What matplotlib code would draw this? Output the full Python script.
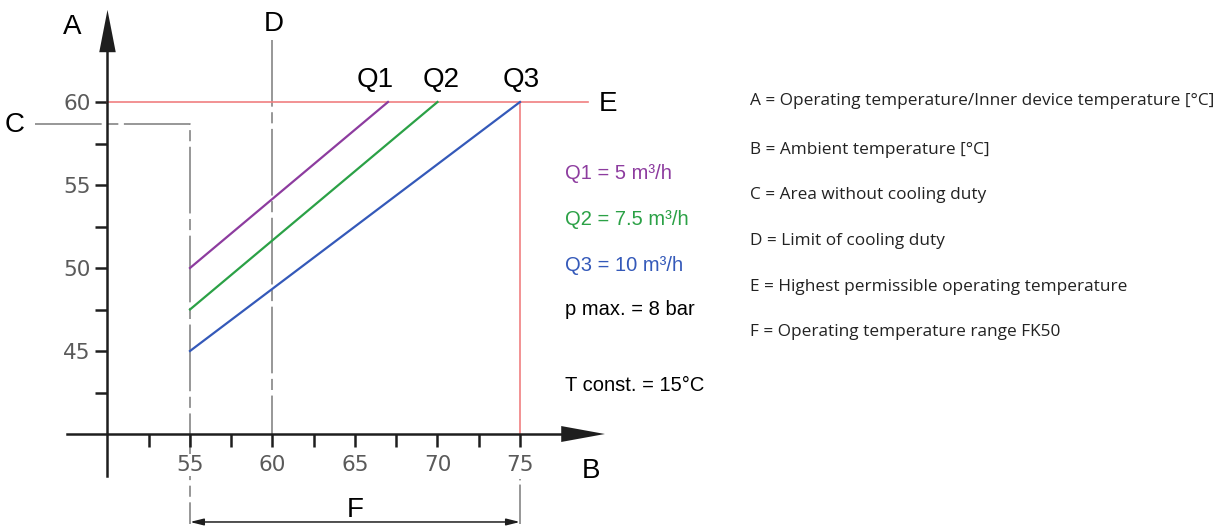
import numpy as np
import matplotlib
matplotlib.use("Agg")
from matplotlib import pyplot as plt
from matplotlib.patches import Polygon

# data
x_ticks = np.arange(52.5, 75.1, 2.5)
y_ticks = np.arange(42.5, 60.1, 2.5)
q_names = ["Q1", "Q2", "Q3"]
q_x = [[55, 67], [55, 70], [55, 75]]
q_y = [[50, 60], [47.5, 60], [45, 60]]
q_label_x = [66.2, 70.2, 75.05]
q_colors = ["#8d3c9f", "#2ba146", "#3459b9"]
q_info = ["Q1 = 5 m³/h", "Q2 = 7.5 m³/h", "Q3 = 10 m³/h"]
extra_info = ["p max. = 8 bar", "T const. = 15°C"]
t_max = 60          # E
t_no_cooling = 58.7 # C
limit_cooling = 60  # D
f_range = [55, 75]  # F
legend_lines = [
    "A = Operating temperature/Inner device temperature [°C]",
    "B = Ambient temperature [°C]",
    "C = Area without cooling duty",
    "D = Limit of cooling duty",
    "E = Highest permissible operating temperature",
    "F = Operating temperature range FK50",
]

plt.rcParams['lines.scale_dashes'] = False
dashdot = (0, (48, 4, 8, 4))
gray = "#858585"
red = "#f07f80"
dark = "#1e1e1e"

fig = plt.figure(figsize=(12.24, 5.26), dpi=100)
ax = fig.add_axes([0, 0, 1, 1])
ax.set_xlim(43.485, 117.67)
ax.set_ylim(34.458, 66.145)

# axes as crossing lines
for s in ["top", "right"]:
    ax.spines[s].set_visible(False)
ax.spines["left"].set_position(("data", 50))
ax.spines["bottom"].set_position(("data", 40))
ax.spines["left"].set_bounds(37.5, 64)
ax.spines["bottom"].set_bounds(47.55, 78.5)
for s in ["left", "bottom"]:
    ax.spines[s].set_color(dark)
    ax.spines[s].set_linewidth(1.8)
    ax.spines[s].set_zorder(5)

ax.set_xticks(x_ticks)
ax.set_xticklabels(["%g" % v if v % 5 == 0 else "" for v in x_ticks])
ax.set_yticks(y_ticks)
ax.set_yticklabels(["%g" % v if v % 5 == 0 else "" for v in y_ticks])
ax.tick_params(axis="x", direction="out", length=9, width=1.8, color=dark,
               pad=6, labelsize=15.5, labelcolor="#5a5a5a")
ax.tick_params(axis="y", direction="out", length=9, width=1.8, color=dark,
               pad=3, labelsize=15.5, labelcolor="#5a5a5a")
for lab in ax.get_xticklabels():
    lab.set_bbox(dict(facecolor="white", edgecolor="none", pad=1))

# arrow heads
ax.add_patch(Polygon([[80.15, 40], [77.5, 40.48], [77.5, 39.52]], closed=True,
                     color=dark, zorder=6, lw=0))
ax.add_patch(Polygon([[50, 65.55], [49.5, 63.0], [50.5, 63.0]], closed=True,
                     color=dark, zorder=6, lw=0))

# limit lines
ax.plot([50, 79.1], [t_max, t_max], color=red, lw=1.2, zorder=2)
ax.plot([75, 75], [40, t_max], color=red, lw=1.2, zorder=2)
ax.plot([45.6, 55, 55], [t_no_cooling, t_no_cooling, 34.6], color=gray, lw=1.2,
        ls=dashdot, zorder=1)
ax.plot([limit_cooling, limit_cooling], [63.75, 40], color=gray, lw=1.2,
        ls=dashdot, zorder=1)
ax.plot([75, 75], [37.3, 34.6], color=gray, lw=1.2, ls=(0, (1, 3, 40, 2)), zorder=1)

# flow lines
for xs, ys, c, n, lx in zip(q_x, q_y, q_colors, q_names, q_label_x):
    ax.plot(xs, ys, color=c, lw=1.6, zorder=3)
    ax.text(lx, 61.33, n, fontsize=20, family="Liberation Sans",
            ha="center", va="center", color="black")

# F range arrow
ax.annotate("", xy=(f_range[0], 34.7), xytext=(f_range[1], 34.7),
            arrowprops=dict(arrowstyle="<|-|>,head_length=0.8,head_width=0.2",
                            color=dark, lw=1.1, shrinkA=0, shrinkB=0))

# letters
letter_kw = dict(fontsize=20, family="Liberation Sans", ha="center",
                 va="center", color="black")
ax.text(47.85, 64.5, "A", **letter_kw)
ax.text(60.1, 64.7, "D", **letter_kw)
ax.text(44.4, 58.6, "C", **letter_kw)
ax.text(80.35, 59.9, "E", **letter_kw)
ax.text(79.3, 37.8, "B", **letter_kw)
ax.text(65.0, 35.45, "F", **letter_kw)

# info text
info_y = [55.72, 52.95, 50.18, 47.53, 42.95]
for t, c, y in zip(q_info + extra_info, q_colors + ["black", "black"], info_y):
    ax.text(77.75, y, t, fontsize=14.5, family="Liberation Sans", color=c,
            ha="left", va="center")

# explanation list on the right
leg_y = [101, 150, 195, 241, 287, 332]
for t, yp in zip(legend_lines, leg_y):
    fig.text(750 / 1224, 1 - yp / 526, t, fontsize=12.4, family="Open Sans",
             color="#222222", ha="left", va="center")

fig.savefig("out.png", dpi=100)
